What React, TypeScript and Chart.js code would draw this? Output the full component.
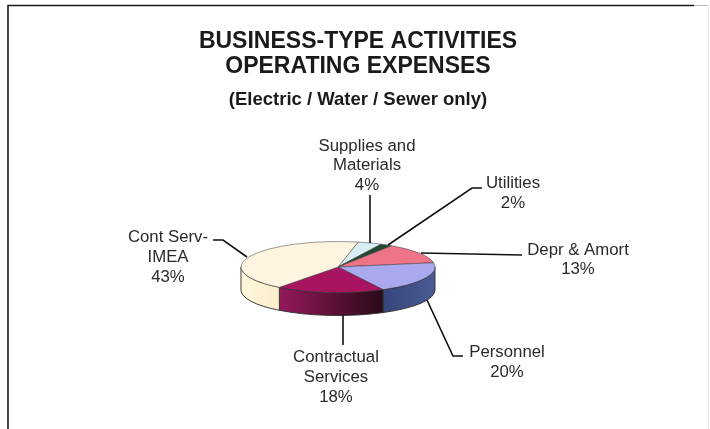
import React, { useEffect, useRef } from "react";
import { Chart, registerables } from "chart.js";

Chart.register(...registerables);

const titleLines = ["BUSINESS-TYPE ACTIVITIES", "OPERATING EXPENSES"];
const subtitleLine = "(Electric / Water / Sewer only)";
const labelLines = [
  ["Supplies and", "Materials"],
  ["Utilities"],
  ["Depr & Amort"],
  ["Personnel"],
  ["Contractual", "Services"],
  ["Cont Serv-", "IMEA"],
];
const percentages = [4, 2, 13, 20, 18, 43];
const topColors = ["#D9EDF5", "#1F4A30", "#EE7488", "#A9A9EE", "#A8145F", "#FFF4DF"];
const wallLeft = ["#B9CDD6", "#17351f", "#A04A5A", "#36457C", "#94195A", "#FFF6DA"];
const wallRight = ["#B9CDD6", "#17351f", "#A04A5A", "#4A5A92", "#2A0A18", "#FBEFCB"];

const pieCenter = { x: 338, y: 267 };
const radii = { x: 97, y: 25.5 };
const depth = 23;

const labelCenters = [
  { x: 367, y: 146 },
  { x: 513, y: 183 },
  { x: 578, y: 250 },
  { x: 507, y: 352 },
  { x: 336, y: 357 },
  { x: 168, y: 237 },
];
const lineStep = [19.5, 20, 19.5, 20, 20, 20];
const leaders = [
  [[370, 195], [370, 243]],
  [[482, 188], [472, 188], [388, 245]],
  [[421, 253], [522, 255]],
  [[427, 300], [453, 356], [463, 356]],
  [[343, 315], [343, 345]],
  [[213, 240], [223, 240], [247, 257]],
];

const pie3dPlugin = {
  id: "pie3d",
  beforeDatasetsDraw(chart: any) {
    const ctx = chart.ctx;
    const arcs = chart.getDatasetMeta(0).data;
    const p0 = arcs[0].getProps(["x", "y", "outerRadius"], true);
    const { x: cx, y: cy } = pieCenter;

    // side wall of the pie
    arcs.forEach((arc: any, i: number) => {
      const { startAngle, endAngle } = arc.getProps(["startAngle", "endAngle"], true);
      for (let k = -1; k <= 1; k++) {
        const lo = Math.max(startAngle, 2 * Math.PI * k);
        const hi = Math.min(endAngle, 2 * Math.PI * k + Math.PI);
        if (hi <= lo) continue;
        const xa = cx + radii.x * Math.cos(lo);
        const xb = cx + radii.x * Math.cos(hi);
        const grad = ctx.createLinearGradient(Math.max(xa, xb), 0, Math.min(xa, xb), 0);
        grad.addColorStop(0, wallRight[i]);
        grad.addColorStop(1, wallLeft[i]);
        ctx.beginPath();
        ctx.ellipse(cx, cy, radii.x, radii.y, 0, lo, hi);
        ctx.ellipse(cx, cy + depth, radii.x, radii.y, 0, hi, lo, true);
        ctx.closePath();
        ctx.fillStyle = grad;
        ctx.fill();
        ctx.strokeStyle = "#2b2b2b";
        ctx.lineWidth = 0.9;
        ctx.stroke();
      }
    });

    // the pie's own arcs drawn flattened
    ctx.save();
    ctx.translate(cx, cy);
    ctx.scale(radii.x / p0.outerRadius, radii.y / p0.outerRadius);
    ctx.translate(-p0.x, -p0.y);
  },
  afterDatasetsDraw(chart: any) {
    const ctx = chart.ctx;
    ctx.restore();

    // frame
    ctx.save();
    ctx.strokeStyle = "#1c1c1c";
    ctx.lineWidth = 1.6;
    ctx.beginPath();
    ctx.moveTo(8, 429);
    ctx.lineTo(8, 5.5);
    ctx.lineTo(694, 5.5);
    ctx.stroke();
    ctx.strokeStyle = "#bdbdbd";
    ctx.lineWidth = 1;
    ctx.beginPath();
    ctx.moveTo(694, 5.5);
    ctx.lineTo(708, 5.5);
    ctx.stroke();
    ctx.strokeStyle = "#e4e4e4";
    ctx.beginPath();
    ctx.moveTo(708.5, 5.5);
    ctx.lineTo(708.5, 429);
    ctx.stroke();

    // leader lines
    ctx.strokeStyle = "#111";
    ctx.lineWidth = 1.6;
    leaders.forEach((pts) => {
      ctx.beginPath();
      pts.forEach(([x, y], j) => (j ? ctx.lineTo(x, y) : ctx.moveTo(x, y)));
      ctx.stroke();
    });

    // labels
    ctx.fillStyle = "#2a2a2a";
    ctx.font = "16.8px 'Liberation Sans'";
    ctx.textAlign = "center";
    ctx.textBaseline = "middle";
    labelLines.forEach((lines, i) => {
      const all = [...lines, `${percentages[i]}%`];
      all.forEach((t, j) => {
        ctx.fillText(t, labelCenters[i].x, labelCenters[i].y + j * lineStep[i]);
      });
    });
    ctx.restore();
  },
};

export default function App() {
  const ref = useRef<HTMLCanvasElement>(null);
  useEffect(() => {
    const chart = new Chart(ref.current!, {
      type: "pie",
      data: {
        labels: labelLines.map((l) => l.join(" ")),
        datasets: [
          {
            data: percentages,
            backgroundColor: topColors,
            borderColor: "#3a3a3a",
            borderWidth: 0.8,
            clip: false,
          } as any,
        ],
      },
      options: {
        responsive: false,
        animation: false,
        rotation: 12,
        layout: { padding: { top: 29, left: 6, right: 0, bottom: 118 } },
        plugins: {
          legend: { display: false },
          tooltip: { enabled: false },
          title: {
            display: true,
            text: titleLines,
            color: "#1a1a1a",
            font: { family: "'Liberation Sans'", size: 23, weight: "bold", lineHeight: 1.087 },
            padding: { top: 0, bottom: 9.6 },
          },
          subtitle: {
            display: true,
            text: subtitleLine,
            color: "#1a1a1a",
            font: { family: "'Liberation Sans'", size: 18.5, weight: "bold" },
            padding: { top: 0, bottom: 6 },
          },
        },
      },
      plugins: [pie3dPlugin],
    });
    return () => chart.destroy();
  }, []);
  return (
    <div style={{ position: "fixed", left: 0, top: 0, width: 710, height: 429, background: "#fff" }}>
      <canvas ref={ref} width={710} height={429} style={{ display: "block", filter: "blur(0.55px)" }} />
    </div>
  );
}
